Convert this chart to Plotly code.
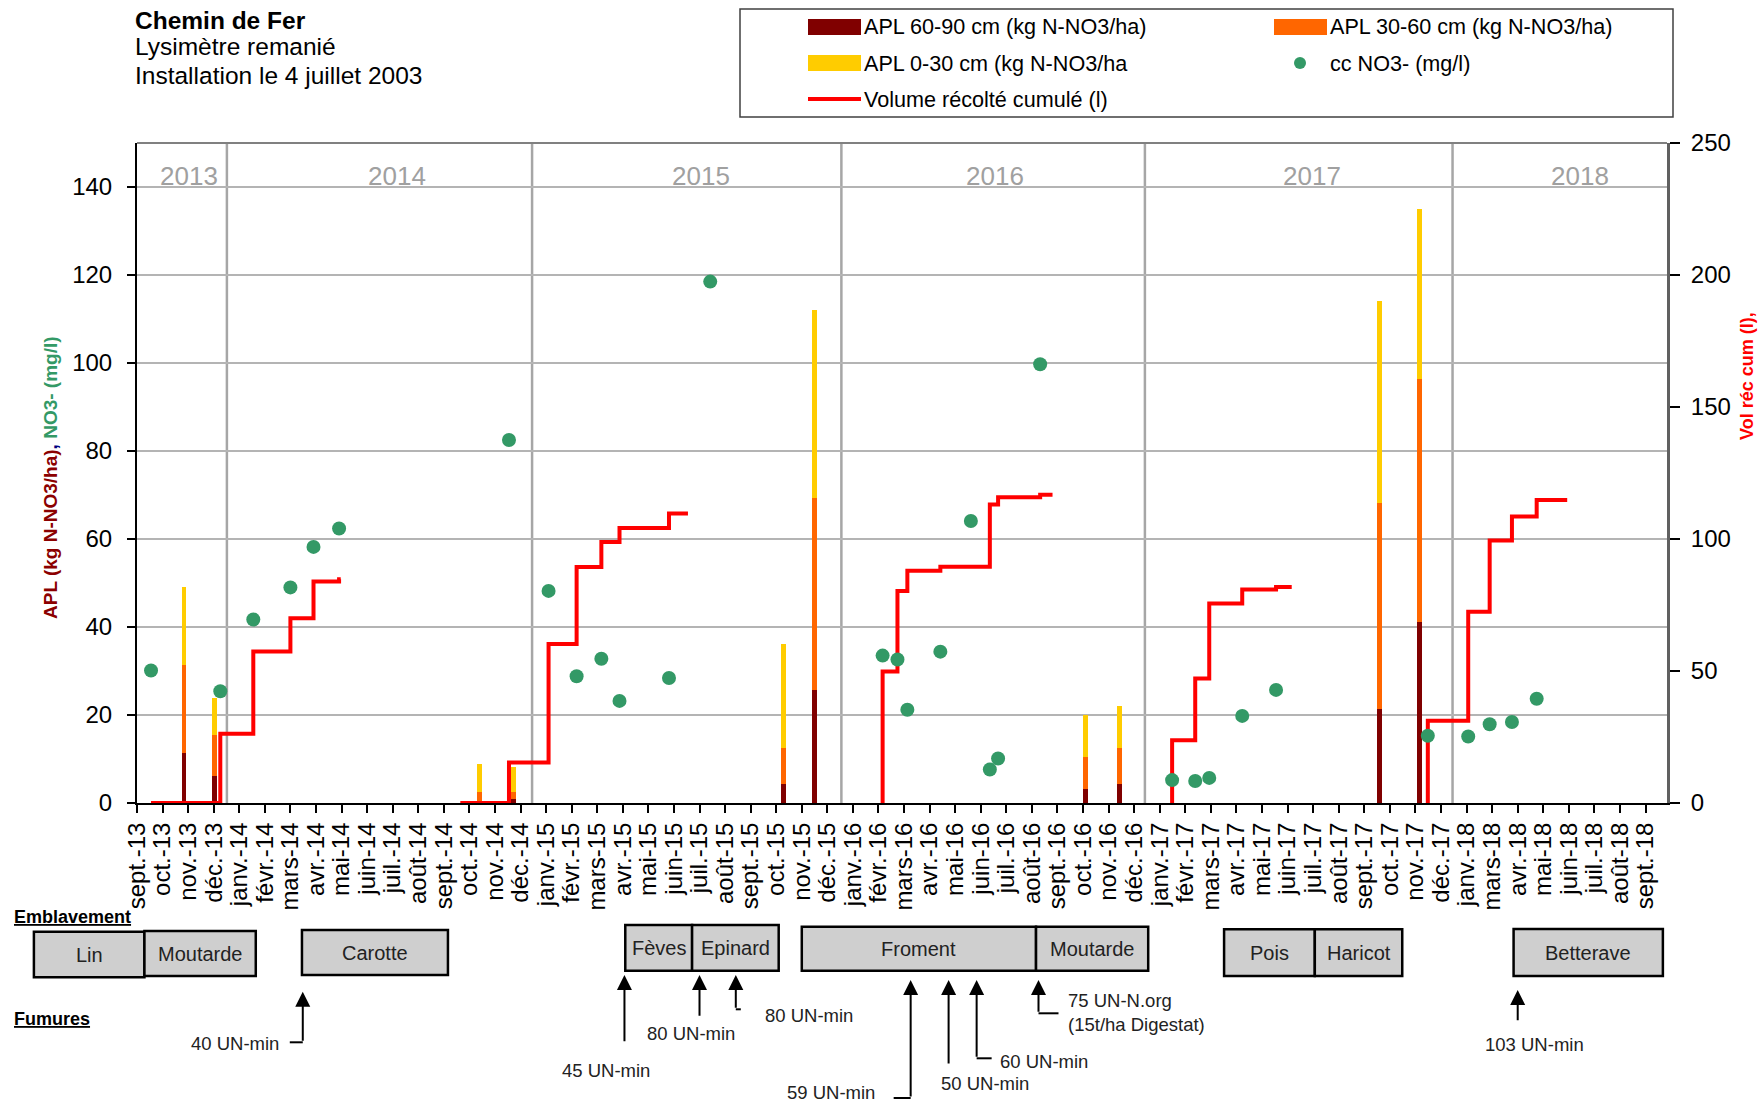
import pandas as pd
import plotly.graph_objects as go

FONT = "Liberation Sans, Arial, Helvetica, sans-serif"

# ---------------- data ----------------
tick_labels = ["sept.-13", "oct.-13", "nov.-13", "déc.-13",
               "janv.-14", "févr.-14", "mars-14", "avr.-14", "mai-14", "juin-14",
               "juil.-14", "août-14", "sept.-14", "oct.-14", "nov.-14", "déc.-14",
               "janv.-15", "févr.-15", "mars-15", "avr.-15", "mai-15", "juin-15",
               "juil.-15", "août-15", "sept.-15", "oct.-15", "nov.-15", "déc.-15",
               "janv.-16", "févr.-16", "mars-16", "avr.-16", "mai-16", "juin-16",
               "juil.-16", "août-16", "sept.-16", "oct.-16", "nov.-16", "déc.-16",
               "janv.-17", "févr.-17", "mars-17", "avr.-17", "mai-17", "juin-17",
               "juil.-17", "août-17", "sept.-17", "oct.-17", "nov.-17", "déc.-17",
               "janv.-18", "mars-18", "avr.-18", "mai-18", "juin-18", "juil.-18",
               "août-18", "sept.-18"]

bar_dates = ["2013-10-28", "2013-12-04", "2014-10-21", "2014-12-01", "2015-10-25",
             "2015-12-01", "2016-10-25", "2016-12-05", "2017-10-16", "2017-12-04"]
apl_60_90 = [11.4, 6.2, 0.5, 0.8, 4.4, 25.7, 3.2, 4.4, 21.3, 41.2]
apl_30_60 = [19.9, 9.3, 2.1, 1.7, 8.0, 43.6, 7.2, 8.0, 46.9, 55.1]
apl_0_30 = [17.8, 8.4, 6.3, 5.7, 23.7, 42.8, 9.6, 9.6, 45.8, 38.7]

no3_dates = ["2013-09-18", "2013-12-11", "2014-01-20", "2014-03-06", "2014-04-03",
             "2014-05-04", "2014-11-26", "2015-01-13", "2015-02-16", "2015-03-18",
             "2015-04-09", "2015-06-08", "2015-07-28", "2016-02-22", "2016-03-11",
             "2016-03-23", "2016-05-02", "2016-06-08", "2016-07-01", "2016-07-11",
             "2016-08-31", "2017-02-07", "2017-03-07", "2017-03-24", "2017-05-03",
             "2017-06-13", "2017-12-14", "2018-02-01", "2018-02-27", "2018-03-26",
             "2018-04-25"]
no3_values = [30.1, 25.4, 41.7, 49.0, 58.2, 62.4, 82.5, 48.2, 28.8, 32.8, 23.2,
              28.4, 118.5, 33.5, 32.6, 21.2, 34.4, 64.1, 7.6, 10.1, 99.7, 5.2,
              5.0, 5.7, 19.8, 25.7, 15.3, 15.1, 17.9, 18.4, 23.7]

vol_dates = ["2013-09-18", "2013-12-11", "2014-01-20", "2014-03-06", "2014-04-03",
             "2014-05-04", "2014-05-06", None,
             "2014-09-28", "2014-11-26", "2015-01-13", "2015-02-16", "2015-03-18",
             "2015-04-09", "2015-06-08", "2015-07-01", None,
             "2016-02-22", "2016-02-22", "2016-03-11", "2016-03-23", "2016-05-02",
             "2016-07-01", "2016-07-11", "2016-08-31", "2016-09-15", None,
             "2017-02-07", "2017-02-07", "2017-03-07", "2017-03-24", "2017-05-03",
             "2017-06-13", "2017-07-02", None,
             "2017-12-14", "2017-12-14", "2018-02-01", "2018-02-27", "2018-03-26",
             "2018-04-25", "2018-06-01"]
vol_values = [0, 26.2, 57.4, 70.0, 83.9, 84.8, 84.8, None,
              0, 15.3, 60.2, 89.4, 98.9, 104.2, 109.7, 109.7, None,
              0, 49.8, 80.3, 88.0, 89.5, 113.1, 115.8, 116.8, 116.8, None,
              0, 23.8, 47.2, 75.6, 80.9, 81.8, 81.8, None,
              0, 31.2, 72.4, 99.4, 108.5, 114.8, 114.8]

year_labels = ["2013", "2014", "2015", "2016", "2017", "2018"]
year_label_dates = ["2013-11-03", "2014-07-13", "2015-07-17", "2016-07-07",
                    "2017-07-27", "2018-06-17"]
year_divider_dates = ["2013-12-19", "2014-12-24", "2016-01-03", "2017-01-05", "2018-01-13"]

crop_names = ["Lin", "Moutarde", "Carotte", "Fèves", "Epinard", "Froment",
              "Moutarde", "Pois", "Haricot", "Betterave"]
crop_start = ["2013-04-29", "2013-09-10", "2014-03-20", "2015-04-16", "2015-07-06",
              "2015-11-16", "2016-08-26", "2017-04-11", "2017-07-30", "2018-03-28"]
crop_end = ["2013-09-10", "2014-01-23", "2014-09-13", "2015-07-06", "2015-10-19",
            "2016-08-26", "2017-01-09", "2017-07-30", "2017-11-13", "2018-09-25"]

fum_dates = ["2014-03-21", "2015-04-15", "2015-07-15", "2015-08-28", "2016-03-27",
             "2016-05-12", "2016-06-15", "2016-08-29", "2018-04-02"]
fum_labels = ["40 UN-min", "45 UN-min", "80 UN-min", "80 UN-min", "59 UN-min",
              "50 UN-min", "60 UN-min", "75 UN-N.org<br>(15t/ha Digestat)", "103 UN-min"]

# ---------------- styling / layout helpers ----------------
C_6090 = "#800000"
C_3060 = "#ff6600"
C_030 = "#ffcc00"
C_NO3 = "#339966"
C_VOL = "#ff0000"

W, H = 1760, 1104
ML, MR, MT, MB = 137, 93, 143, 301
X_START, X_END = pd.Timestamp("2013-09-01"), pd.Timestamp("2018-09-30")
TICK_STEP_DAYS = 31


def xp(px):
    return (px - ML) / (W - ML - MR)


def yp(py):
    return (H - MB - py) / (H - MT - MB)


def dp(d):
    return (pd.Timestamp(d) - X_START) / (X_END - X_START)


tick_dates = [X_START + pd.Timedelta(days=TICK_STEP_DAYS * k) for k in range(len(tick_labels))]

# box vertical extents (px) per crop
box_top = [931.7, 931, 930, 925, 925, 926.7, 926.7, 929.3, 929.3, 929]
box_bot = [977.3, 976, 975, 970.7, 970.7, 970.7, 970.7, 976, 976, 976]

# fumure arrow geometry (px): tip y, tail y, hook length, label anchor, label dx, label y
fum_tip = [991.7, 975, 975, 975, 980, 980, 980, 980, 990]
fum_tail = [1042.3, 1042.7, 1017.3, 1009.3, 1098, 1065, 1058.3, 1013.3, 1021.7]
fum_hook = [-13, 0, 0, 5, -17, 0, 15, 20, 0]
fum_anchor = ["right", "center", "center", "left", "right", "center", "left", "left", "center"]
fum_dx = [-22, -18, -9, 27, -34, 36, 21, 27, 17]
fum_ly = [1043, 1070, 1033, 1015, 1092, 1083, 1061, 1012, 1044]

BAR_W = 6 * 86400000

fig = go.Figure()
fig.add_trace(go.Bar(x=bar_dates, y=apl_60_90, name="APL 60-90 cm (kg N-NO3/ha)",
                     marker=dict(color=C_6090, line=dict(width=0)), width=BAR_W, yaxis="y"))
fig.add_trace(go.Bar(x=bar_dates, y=apl_30_60, name="APL 30-60 cm (kg N-NO3/ha)",
                     marker=dict(color=C_3060, line=dict(width=0)), width=BAR_W, yaxis="y"))
fig.add_trace(go.Bar(x=bar_dates, y=apl_0_30, name="APL 0-30 cm (kg N-NO3/ha",
                     marker=dict(color=C_030, line=dict(width=0)), width=BAR_W, yaxis="y"))
fig.add_trace(go.Scatter(x=vol_dates, y=vol_values, name="Volume récolté cumulé (l)",
                         mode="lines", line=dict(color=C_VOL, width=4, shape="hv"),
                         connectgaps=False, yaxis="y2"))
fig.add_trace(go.Scatter(x=no3_dates, y=no3_values, name="cc NO3- (mg/l)", mode="markers",
                         marker=dict(size=14, color=C_NO3), yaxis="y3"))

shapes = []
annotations = []

# plot top border
shapes.append(dict(type="line", xref="paper", yref="paper", x0=0, x1=1, y0=1, y1=1,
                   line=dict(color="#808080", width=2)))
# year dividers
for d in year_divider_dates:
    shapes.append(dict(type="line", xref="x", yref="paper", x0=d, x1=d, y0=0, y1=1,
                       line=dict(color="#a6a6a6", width=2.5), layer="below"))
for lab, d in zip(year_labels, year_label_dates):
    annotations.append(dict(x=d, y=yp(176), xref="x", yref="paper", text=lab, showarrow=False,
                            font=dict(family=FONT, size=26, color="#a0a0a0"),
                            xanchor="center", yanchor="middle"))

# titles
annotations.append(dict(x=xp(133), y=yp(20), xref="paper", yref="paper", showarrow=False,
                        text="<b>Chemin de Fer</b>", xanchor="left", yanchor="middle",
                        font=dict(family=FONT, size=24.5, color="black")))
annotations.append(dict(x=xp(133), y=yp(47), xref="paper", yref="paper", showarrow=False,
                        text="Lysimètre remanié", xanchor="left", yanchor="middle",
                        font=dict(family=FONT, size=24.5, color="black")))
annotations.append(dict(x=xp(133), y=yp(76), xref="paper", yref="paper", showarrow=False,
                        text="Installation le 4 juillet 2003", xanchor="left", yanchor="middle",
                        font=dict(family=FONT, size=24.5, color="black")))

# axis titles
annotations.append(dict(x=xp(50), y=yp(478), xref="paper", yref="paper", showarrow=False,
                        textangle=-90, xanchor="center", yanchor="middle",
                        text=("<b><span style='color:#8b0000'>APL (kg N-NO3/ha)</span>"
                              "<span style='color:#000080'>, </span>"
                              "<span style='color:#339966'>NO3- (mg/l)</span></b>"),
                        font=dict(family=FONT, size=19)))
annotations.append(dict(x=xp(1747), y=yp(376), xref="paper", yref="paper", showarrow=False,
                        textangle=-90, xanchor="center", yanchor="middle",
                        text="<b>Vol réc cum (l),</b>", font=dict(family=FONT, size=18, color=C_VOL)))

# legend (drawn manually to match the two-column layout)
shapes.append(dict(type="rect", xref="paper", yref="paper", x0=xp(740), x1=xp(1673),
                   y0=yp(117), y1=yp(9), line=dict(color="#404040", width=1.5),
                   fillcolor="white"))
leg_items = [
    ("rect", C_6090, 808, 27, "APL 60-90 cm (kg N-NO3/ha)"),
    ("rect", C_3060, 1274, 27, "APL 30-60 cm (kg N-NO3/ha)"),
    ("rect", C_030, 808, 63, "APL 0-30 cm (kg N-NO3/ha"),
    ("dot", C_NO3, 1274, 63, "cc NO3- (mg/l)"),
    ("line", C_VOL, 808, 99, "Volume récolté cumulé (l)"),
]
for kind, col, lx, ly, txt in leg_items:
    if kind == "rect":
        shapes.append(dict(type="rect", xref="paper", yref="paper", x0=xp(lx), x1=xp(lx + 53),
                           y0=yp(ly + 8), y1=yp(ly - 8), line=dict(width=0), fillcolor=col))
    elif kind == "line":
        shapes.append(dict(type="line", xref="paper", yref="paper", x0=xp(lx), x1=xp(lx + 53),
                           y0=yp(ly), y1=yp(ly), line=dict(color=col, width=4)))
    else:
        shapes.append(dict(type="circle", xref="paper", yref="paper", x0=xp(lx + 20),
                           x1=xp(lx + 32), y0=yp(ly + 6), y1=yp(ly - 6),
                           line=dict(width=0), fillcolor=col))
    annotations.append(dict(x=xp(lx + 54), y=yp(ly), xref="paper", yref="paper", text=txt,
                            showarrow=False, xanchor="left", yanchor="middle",
                            font=dict(family=FONT, size=21.6, color="black")))

# bottom section headers
annotations.append(dict(x=xp(12), y=yp(917), xref="paper", yref="paper",
                        text="<b><u>Emblavement</u></b>", showarrow=False, xanchor="left",
                        yanchor="middle", font=dict(family=FONT, size=18, color="black")))
annotations.append(dict(x=xp(12), y=yp(1019), xref="paper", yref="paper",
                        text="<b><u>Fumures</u></b>", showarrow=False, xanchor="left",
                        yanchor="middle", font=dict(family=FONT, size=18, color="black")))

# crop boxes
for name, s, e, t, b in zip(crop_names, crop_start, crop_end, box_top, box_bot):
    shapes.append(dict(type="rect", xref="paper", yref="paper", x0=dp(s), x1=dp(e),
                       y0=yp(b), y1=yp(t), line=dict(color="black", width=2.5),
                       fillcolor="#cfcfcf"))
    annotations.append(dict(x=(dp(s) + dp(e)) / 2, y=yp((t + b) / 2), xref="paper",
                            yref="paper", text=name, showarrow=False, xanchor="center",
                            yanchor="middle", font=dict(family=FONT, size=20, color="#222222")))

# fertiliser arrows
for d, lab, tip, tail, hook, anc, dx, ly in zip(fum_dates, fum_labels, fum_tip, fum_tail,
                                                fum_hook, fum_anchor, fum_dx, fum_ly):
    annotations.append(dict(x=d, y=yp(tip), xref="x", yref="paper", text="", showarrow=True,
                            ax=0, ay=tail - tip, axref="pixel", ayref="pixel",
                            arrowhead=2, arrowsize=1.5, arrowwidth=2, arrowcolor="black",
                            standoff=0, startstandoff=0))
    if hook:
        shapes.append(dict(type="line", xref="x", xsizemode="pixel", xanchor=d, x0=0, x1=hook,
                           yref="paper", y0=yp(tail), y1=yp(tail),
                           line=dict(color="black", width=2)))
    annotations.append(dict(x=d, y=yp(ly), xref="x", yref="paper", text=lab, showarrow=False,
                            xshift=dx, xanchor=anc, yanchor="middle", align="left",
                            font=dict(family=FONT, size=18.5, color="#222222")))

fig.update_layout(
    width=W, height=H,
    margin=dict(l=ML, r=MR, t=MT, b=MB, pad=0),
    paper_bgcolor="white", plot_bgcolor="white",
    barmode="stack", bargap=0,
    showlegend=False,
    font=dict(family=FONT, size=24, color="black"),
    xaxis=dict(type="date", range=[X_START, X_END], tickvals=tick_dates, ticktext=tick_labels,
               tickangle=-90, ticks="outside", ticklen=8, tickwidth=1.5, tickcolor="black",
               showline=True, linecolor="black", linewidth=2, showgrid=False, zeroline=False,
               tickfont=dict(family=FONT, size=24, color="black")),
    yaxis=dict(range=[0, 150], tickvals=[0, 20, 40, 60, 80, 100, 120, 140],
               showgrid=True, gridcolor="#b4b4b4", gridwidth=1.5, zeroline=False,
               showline=True, linecolor="black", linewidth=2, ticks="outside", ticklen=8,
               tickwidth=1.5, tickcolor="black", ticklabelstandoff=10,
               tickfont=dict(family=FONT, size=24, color="black")),
    yaxis2=dict(range=[0, 250], tickvals=[0, 50, 100, 150, 200, 250], overlaying="y",
                side="right", showgrid=False, zeroline=False, showline=True,
                linecolor="#606060", linewidth=3, ticks="outside", ticklen=10, tickwidth=1.5,
                tickcolor="black", ticklabelstandoff=6,
                tickfont=dict(family=FONT, size=24, color="black")),
    yaxis3=dict(range=[0, 150], overlaying="y", visible=False),
    shapes=shapes,
    annotations=annotations,
)

fig.write_html("out.html")
